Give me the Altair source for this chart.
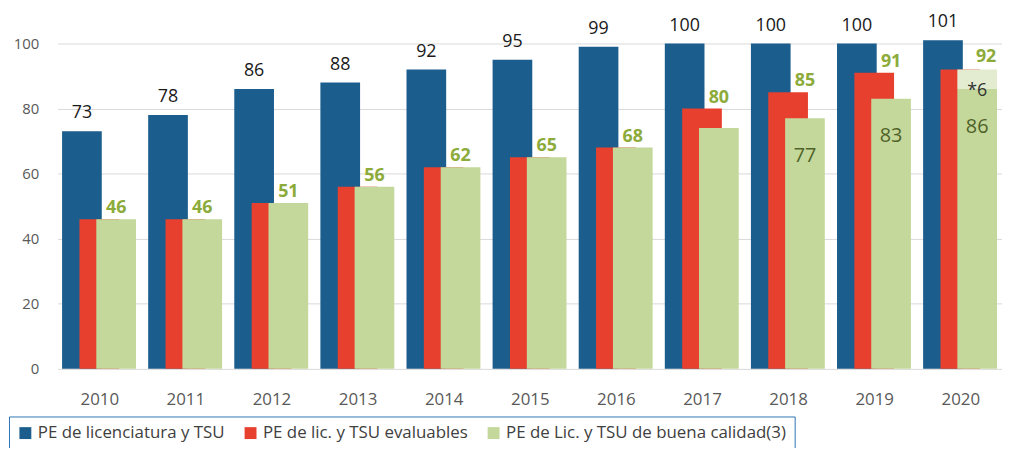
import altair as alt
import pandas as pd

years = [str(y) for y in range(2010, 2021)]
pe_total = [73, 78, 86, 88, 92, 95, 99, 100, 100, 100, 101]
pe_evaluables = [46, 46, 51, 56, 62, 65, 68, 80, 85, 91, 92]
pe_calidad = [46, 46, 51, 56, 62, 65, 68, 74, 77, 83, 86]
extra_year = ["2020"]
extra_value = [6]

series = [
    "PE de licenciatura y TSU",
    "PE de lic. y TSU evaluables",
    "PE de Lic. y TSU de buena calidad(3)",
]
colors = ["#1b5d8c", "#e8402e", "#c4d89b"]

FONT = "Open Sans"

long = pd.concat(
    [pd.DataFrame({"year": years, "serie": s, "value": v})
     for s, v in zip(series, [pe_total, pe_evaluables, pe_calidad])],
    ignore_index=True,
)
wide = pd.DataFrame({"year": years, "total": pe_total, "eval": pe_evaluables, "cal": pe_calidad})
extra = pd.DataFrame({"year": extra_year, "extra": extra_value})
extra = extra.merge(wide, on="year")
extra["top"] = extra["cal"] + extra["extra"]
extra["lbl"] = "*" + extra["extra"].astype(str)

xenc = alt.X(
    "year:N",
    scale=alt.Scale(type="point", padding=0.484),
    axis=alt.Axis(
        title=None, labelAngle=0, ticks=False, domain=False, grid=False,
        labelFontSize=17, labelColor="#595959", labelPadding=23, labelFont=FONT,
    ),
)
yscale = alt.Scale(domain=[0, 100], nice=False)
yaxis = alt.Axis(
    title=None, values=[0, 20, 40, 60, 80, 100], grid=True, gridColor="#d9d9d9",
    domain=False, ticks=False, labelPadding=19, labelFontSize=15,
    labelColor="#595959", labelFont=FONT,
)

color = alt.Color(
    "serie:N",
    scale=alt.Scale(domain=series, range=colors),
    legend=alt.Legend(
        title=None, orient="none", legendX=-49, legendY=376, direction="horizontal",
        symbolType="square", symbolSize=144, symbolStrokeWidth=0,
        labelFontSize=17, labelColor="#404040", labelFont=FONT, labelLimit=600,
        strokeColor="#2e74b5", padding=8, columnPadding=17,
    ),
)

base = alt.Chart(long)
offsets = [-17.5, 0, 17]
bar_layers = [
    base.transform_filter(alt.datum.serie == s)
    .mark_bar(width=40, xOffset=off)
    .encode(x=xenc, y=alt.Y("value:Q", scale=yscale, axis=yaxis), color=color)
    for s, off in zip(series, offsets)
]

wbase = alt.Chart(wide)
ylab = lambda f: alt.Y(f"{f}:Q", scale=yscale)

total_lbl = wbase.mark_text(
    xOffset=-17.5, dy=-18, baseline="middle", fontSize=18, color="#1a1a1a", font=FONT
).encode(x=xenc, y=ylab("total"), text="total:Q")

eval_lbl = wbase.transform_filter(alt.datum.year != "2020").mark_text(
    xOffset=17, dy=-11, baseline="middle", fontSize=18, fontWeight="bold",
    color="#8cab3a", font=FONT
).encode(x=xenc, y=ylab("eval"), text="eval:Q")

eval_lbl_last = wbase.transform_filter(alt.datum.year == "2020").mark_text(
    xOffset=17, dx=9, dy=-13, baseline="middle", fontSize=18, fontWeight="bold",
    color="#8cab3a", font=FONT
).encode(x=xenc, y=ylab("eval"), text="eval:Q")

cal_lbl = wbase.transform_filter(alt.datum.year >= "2018").mark_text(
    xOffset=17, dy=38, baseline="middle", fontSize=20, color="#4f6228", font=FONT
).encode(x=xenc, y=ylab("cal"), text="cal:Q")

ebase = alt.Chart(extra)
hatch = ebase.mark_bar(width=40, xOffset=17, color="#e3ecd0").encode(
    x=xenc, y=alt.Y("cal:Q", scale=yscale), y2="top:Q"
)
hatch_lbl = ebase.mark_text(
    xOffset=17, dy=2, baseline="middle", fontSize=18, color="#333333", font=FONT
).encode(x=xenc, y=alt.Y("cal:Q", scale=yscale), text="lbl:N")

chart = alt.layer(
    *bar_layers, hatch, total_lbl, eval_lbl, eval_lbl_last, cal_lbl, hatch_lbl
).properties(
    width=952, height=328,
    padding={"left": 50, "top": 34, "right": 0, "bottom": 78},
    autosize=alt.AutoSizeParams(type="none"),
    background="white",
).configure_view(stroke=None)

chart.save("out.html", embed_options={"renderer": "svg", "actions": False})
